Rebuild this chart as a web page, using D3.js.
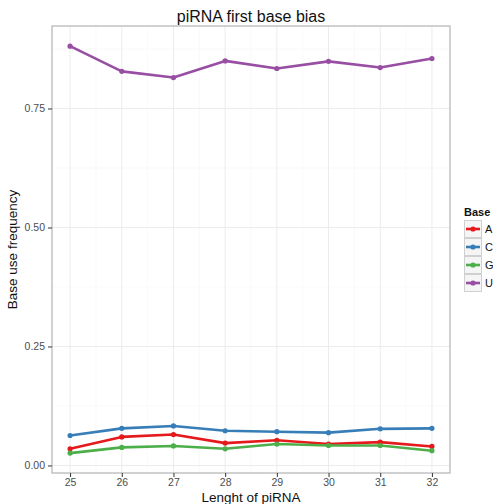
<!DOCTYPE html>
<html>
<head>
<meta charset="utf-8">
<script src="https://cdn.jsdelivr.net/npm/d3@7.9.0/dist/d3.min.js"></script>
<style>
  body { margin: 0; background: #fff; }
  text { font-family: "Liberation Sans", Arial, sans-serif; }
</style>
</head>
<body>
<svg id="chart" width="493" height="504"></svg>
<script>
// data
const lengths = [25, 26, 27, 28, 29, 30, 31, 32];
const bases = ['A', 'C', 'G', 'U'];
const freqA = [0.035, 0.060, 0.065, 0.047, 0.053, 0.045, 0.049, 0.040];
const freqC = [0.063, 0.078, 0.083, 0.073, 0.071, 0.069, 0.077, 0.078];
const freqG = [0.026, 0.038, 0.041, 0.035, 0.045, 0.042, 0.042, 0.031];
const freqU = [0.881, 0.828, 0.815, 0.850, 0.834, 0.849, 0.836, 0.855];
const yTicks = [0, 0.25, 0.5, 0.75];
const colors = ['#E41A1C', '#377EB8', '#4DAF4A', '#984EA3'];

const series = [freqA, freqC, freqG, freqU].map((vals, i) => ({
  base: bases[i],
  color: colors[i],
  values: vals.map((v, j) => ({ x: lengths[j], y: v }))
}));

const svg = d3.select('#chart');
const panel = { left: 52, right: 450, top: 26, bottom: 473 };

const x = d3.scaleLinear().domain([24.65, 32.35]).range([panel.left, panel.right]);
const y = d3.scaleLinear().domain([-0.0158, 0.9233]).range([panel.bottom, panel.top]);

// minor grid
const minorX = d3.range(25.5, 32, 1);
const minorY = [0.125, 0.375, 0.625, 0.875];
svg.append('g').selectAll('line').data(minorX).join('line')
  .attr('x1', d => x(d)).attr('x2', d => x(d))
  .attr('y1', panel.top).attr('y2', panel.bottom)
  .attr('stroke', '#f7f7f7').attr('stroke-width', 0.8);
svg.append('g').selectAll('line').data(minorY).join('line')
  .attr('y1', d => y(d)).attr('y2', d => y(d))
  .attr('x1', panel.left).attr('x2', panel.right)
  .attr('stroke', '#f7f7f7').attr('stroke-width', 0.8);

// major grid
svg.append('g').selectAll('line').data(lengths).join('line')
  .attr('x1', d => x(d)).attr('x2', d => x(d))
  .attr('y1', panel.top).attr('y2', panel.bottom)
  .attr('stroke', '#ececec').attr('stroke-width', 1);
svg.append('g').selectAll('line').data(yTicks).join('line')
  .attr('y1', d => y(d)).attr('y2', d => y(d))
  .attr('x1', panel.left).attr('x2', panel.right)
  .attr('stroke', '#ececec').attr('stroke-width', 1);

// lines and points
const line = d3.line().x(d => x(d.x)).y(d => y(d.y));
series.forEach(s => {
  svg.append('path')
    .datum(s.values)
    .attr('d', line)
    .attr('fill', 'none')
    .attr('stroke', s.color)
    .attr('stroke-width', 2.6)
    .attr('stroke-linejoin', 'round');
  svg.append('g').selectAll('circle').data(s.values).join('circle')
    .attr('cx', d => x(d.x)).attr('cy', d => y(d.y))
    .attr('r', 2.6).attr('fill', s.color);
});

// panel border
svg.append('rect')
  .attr('x', panel.left).attr('y', panel.top)
  .attr('width', panel.right - panel.left).attr('height', panel.bottom - panel.top)
  .attr('fill', 'none').attr('stroke', '#b3b3b3').attr('stroke-width', 1.2);

// axes
const xAxis = svg.append('g')
  .attr('transform', `translate(0,${panel.bottom})`)
  .call(d3.axisBottom(x).tickValues(lengths).tickSize(4).tickPadding(2));
const yAxis = svg.append('g')
  .attr('transform', `translate(${panel.left},0)`)
  .call(d3.axisLeft(y).tickValues(yTicks).tickFormat(d3.format('.2f')).tickSize(4).tickPadding(3));
[xAxis, yAxis].forEach(g => {
  g.select('.domain').remove();
  g.selectAll('.tick line').attr('stroke', '#333').attr('stroke-width', 1);
  g.selectAll('.tick text').attr('fill', '#4d4d4d').style('font-size', '10.5px')
    .style('font-family', '"Liberation Sans", Arial, sans-serif');
});

// titles
svg.append('text')
  .attr('x', (panel.left + panel.right) / 2).attr('y', 22)
  .attr('text-anchor', 'middle').style('font-size', '16px').attr('fill', '#111')
  .text('piRNA first base bias');
svg.append('text')
  .attr('x', (panel.left + panel.right) / 2).attr('y', 502)
  .attr('text-anchor', 'middle').style('font-size', '13.5px').attr('fill', '#111')
  .text('Lenght of piRNA');
svg.append('text')
  .attr('transform', `translate(17,${(panel.top + panel.bottom) / 2}) rotate(-90)`)
  .attr('text-anchor', 'middle').style('font-size', '13.5px').attr('fill', '#111')
  .text('Base use frequency');

// legend
const legend = svg.append('g').attr('transform', 'translate(464,0)');
legend.append('text')
  .attr('x', 0).attr('y', 216)
  .style('font-size', '11px').style('font-weight', 'bold').attr('fill', '#111')
  .text('Base');
series.forEach((s, i) => {
  const g = legend.append('g').attr('transform', `translate(0,${220 + i * 18})`);
  g.append('rect').attr('x', 0.5).attr('y', 0.5).attr('width', 17).attr('height', 17)
    .attr('fill', '#f5f5f5').attr('stroke', '#d0d0d0').attr('stroke-width', 1);
  g.append('line').attr('x1', 2).attr('x2', 16).attr('y1', 9).attr('y2', 9)
    .attr('stroke', s.color).attr('stroke-width', 2.6);
  g.append('circle').attr('cx', 9).attr('cy', 9).attr('r', 2.6).attr('fill', s.color);
  g.append('text').attr('x', 21).attr('y', 13)
    .style('font-size', '11px').attr('fill', '#111').text(s.base);
});
</script>
</body>
</html>
